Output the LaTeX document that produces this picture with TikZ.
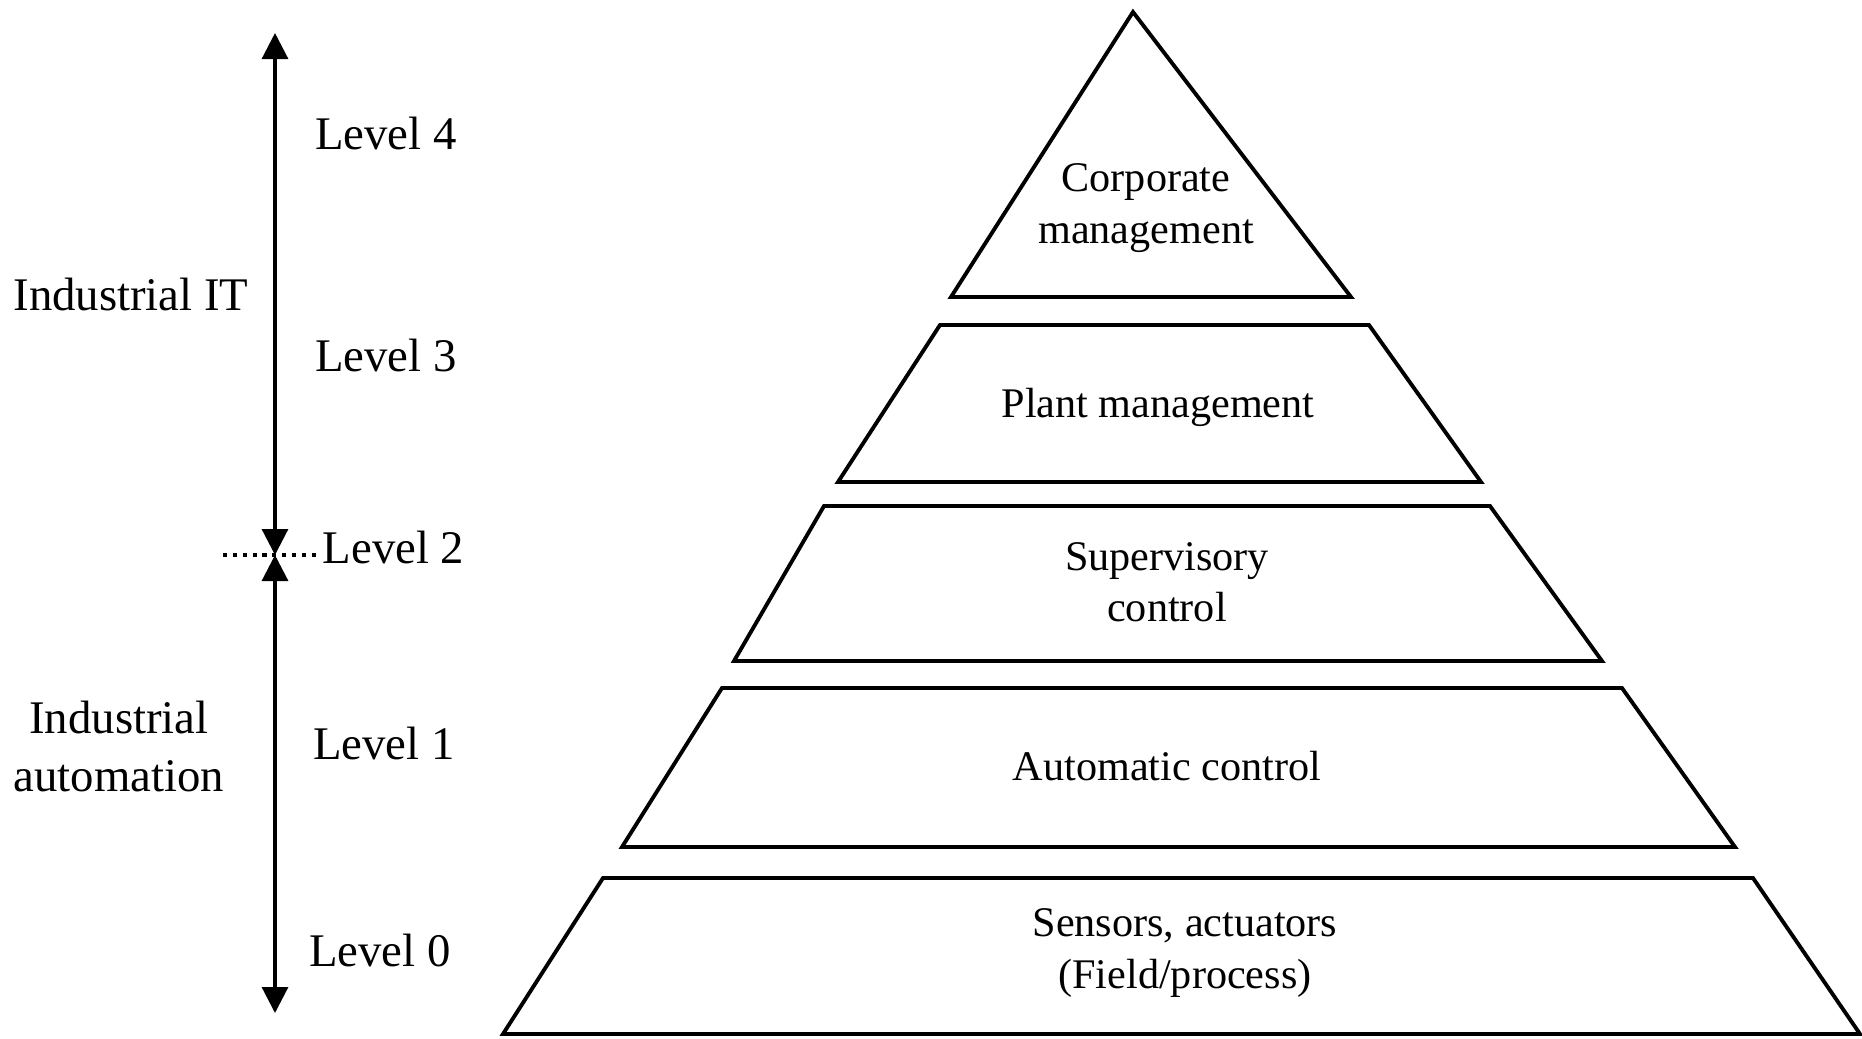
\documentclass[tikz,border=0pt]{standalone}
\usepackage{fontspec}
\setmainfont{Liberation Serif}
\usetikzlibrary{arrows.meta}
\tikzset{
  >={Triangle[length=2.6mm,width=2.6mm]},
  plevel/.style={draw=black, line width=1.1pt, line join=miter},
  ptext/.style={align=center, font=\fontsize{12}{14.6}\selectfont, inner sep=0pt},
  llbl/.style={font=\fontsize{13.3}{16}\selectfont, inner sep=0pt},
  sidelbl/.style={align=center, font=\fontsize{13.3}{16.5}\selectfont, inner sep=0pt},
  scalearrow/.style={<->, line width=0.9pt},
  sepline/.style={line width=1pt, dash pattern=on 1.2pt off 1.6pt},
}
\begin{document}
\begin{tikzpicture}[x=0.01cm,y=-0.01cm]
  \useasboundingbox (0,0) rectangle (1862,1038);

  % pyramide
  \draw[plevel] (1133,12) -- (1351,297) -- (951,297) -- cycle;
  \draw[plevel] (940,325) -- (1369,325) -- (1481,482) -- (838,482) -- cycle;
  \draw[plevel] (824,506) -- (1490,506) -- (1602,661) -- (734,661) -- cycle;
  \draw[plevel] (722,688) -- (1622,688) -- (1735,847) -- (622,847) -- cycle;
  \draw[plevel] (603,878) -- (1753,878) -- (1860,1034) -- (503,1034) -- cycle;

  \node[ptext] (corp)  at (1146,208) {Corporate\\management};
  \node[ptext] (plant) at (1158,407) {Plant management};
  \node[ptext] (sup)   at (1167,582) {Supervisory\\control};
  \node[ptext] (auto)  at (1167,766) {Automatic control};
  \node[ptext] (field) at (1185,953) {Sensors, actuators\\(Field/process)};

  % echelle
  \coordinate (top) at (275,33);
  \coordinate (mid) at (275,555);
  \coordinate (bot) at (275,1013);
  \draw[scalearrow] (top) -- (mid);
  \draw[scalearrow] (mid) -- (bot);

  \coordinate (sepl) at (223,555);
  \coordinate (sepr) at (318,555);
  \draw[sepline] (sepl) -- (sepr);

  % niveaux
  \node[llbl] (lv4) at (386,133) {Level 4};
  \node[llbl] (lv3) at (386,355) {Level 3};
  \node[llbl, anchor=base west] (lv2) at (322,563) {Level 2};
  \node[llbl] (lv1) at (384,743) {Level 1};
  \node[llbl] (lv0) at (380,950) {Level 0};

  \node[sidelbl] (it)  at (131,294) {Industrial IT};
  \node[sidelbl] (ia)  at (119,746) {Industrial\\automation};

\end{tikzpicture}
\end{document}
